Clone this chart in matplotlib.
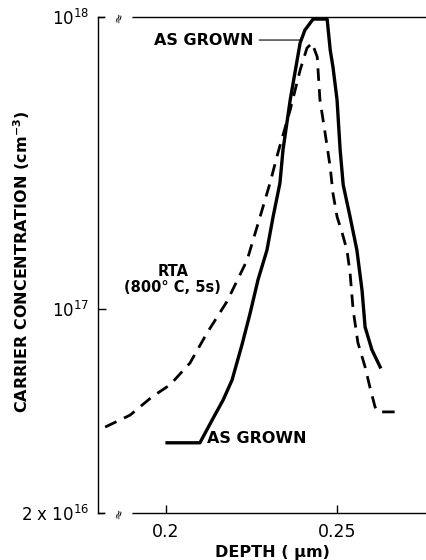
import numpy as np
import matplotlib
matplotlib.use('Agg')
import matplotlib.pyplot as plt

# as-grown profile (solid)
grown_depth = [0.2003, 0.2099, 0.2135, 0.2167, 0.2193, 0.2222, 0.2246, 0.2269,
               0.2295, 0.2313, 0.2333, 0.2342, 0.2363, 0.2392, 0.2406, 0.2430,
               0.2471, 0.2480, 0.2488, 0.2500, 0.2509, 0.2518, 0.2538, 0.2558,
               0.2573, 0.2582, 0.2602, 0.2626]
grown_conc = [3.48e16, 3.48e16, 4.17e16, 4.88e16, 5.71e16, 7.54e16, 9.69e16, 1.26e17,
              1.59e17, 2.07e17, 2.70e17, 3.51e17, 5.20e17, 8.15e17, 9.02e17, 9.84e17,
              9.84e17, 7.71e17, 6.75e17, 5.20e17, 3.51e17, 2.66e17, 2.07e17, 1.59e17,
              1.16e17, 8.67e16, 7.24e16, 6.33e16]

# RTA profile (dashed)
rta_depth = [0.1822, 0.1895, 0.1959, 0.2012, 0.2070, 0.2120, 0.2178, 0.2237,
             0.2275, 0.2304, 0.2327, 0.2363, 0.2392, 0.2412, 0.2427, 0.2442,
             0.2450, 0.2465, 0.2480, 0.2488, 0.2500, 0.2515, 0.2529, 0.2538,
             0.2547, 0.2561, 0.2582, 0.2596, 0.2611, 0.2620, 0.2675]
rta_conc = [3.94e16, 4.33e16, 5.00e16, 5.50e16, 6.53e16, 8.28e16, 1.06e17, 1.47e17,
            2.07e17, 2.70e17, 3.42e17, 4.81e17, 6.58e17, 7.83e17, 8.15e17, 7.30e17,
            5.20e17, 4.01e17, 3.06e17, 2.49e17, 2.07e17, 1.82e17, 1.59e17, 1.33e17,
            9.93e16, 7.66e16, 6.33e16, 5.40e16, 4.62e16, 4.44e16, 4.44e16]

xticks = [0.2, 0.25]
xtick_labels = ['0.2', '0.25']
yticks = [2e16, 1e17, 1e18]
ytick_labels = [r'2 x 10$^{16}$', r'10$^{17}$', r'10$^{18}$']

plt.rcParams['font.family'] = ['DejaVu Sans']
plt.rcParams['mathtext.default'] = 'regular'

fig = plt.figure(figsize=(4.27, 5.6), dpi=100)
ax = fig.add_axes([0.2295, 0.0839, 0.7705, 0.8857])

ax.plot(grown_depth, grown_conc, color='black', lw=2.4, solid_joinstyle='round')
ax.plot(rta_depth, rta_conc, color='black', lw=2.0, linestyle=(0, (4.5, 3)))

ax.set_yscale('log')
ax.set_xlim(0.1801, 0.2763)
ax.set_ylim(2e16, 1e18)

ax.spines['right'].set_visible(False)
for s in ['left', 'top', 'bottom']:
    ax.spines[s].set_linewidth(1.0)

ax.set_xticks(xticks)
ax.set_xticklabels(xtick_labels, fontsize=12.5)
ax.set_yticks(yticks)
ax.set_yticklabels(ytick_labels, fontsize=12)
ax.yaxis.set_minor_locator(matplotlib.ticker.NullLocator())
ax.tick_params(axis='both', direction='in', length=6, width=1, pad=6)
ax.tick_params(axis='x', pad=7)

ax.set_xlabel('DEPTH ( \u03bcm)', fontsize=11.5, fontweight='bold')
ax.xaxis.set_label_coords(0.53, -0.065)
ax.set_ylabel('CARRIER CONCENTRATION (cm$^{-3}$)', fontsize=11.5, fontweight='bold')
ax.yaxis.set_label_coords(-0.2, 0.506)

# axis break marks
ax.text(0.064, 1.0, '≈', transform=ax.transAxes, rotation=70, fontsize=9,
        ha='center', va='center', backgroundcolor='white')
ax.text(0.064, 0.0, '≈', transform=ax.transAxes, rotation=70, fontsize=9,
        ha='center', va='center', backgroundcolor='white')

# annotations
ax.annotate('AS GROWN', xy=(0.2392, 8.34e17), xytext=(0.2256, 8.34e17),
            fontsize=11.5, fontweight='bold', ha='right', va='center',
            arrowprops=dict(arrowstyle='-', lw=0.8, color='black', shrinkA=2, shrinkB=0))
ax.text(0.2120, 3.6e16, 'AS GROWN', fontsize=11.5, fontweight='bold', ha='left', va='center')
ax.text(0.2020, 1.26e17, 'RTA\n(800° C, 5s)', fontsize=10.5, fontweight='bold',
        ha='center', va='center', linespacing=1.05)

fig.savefig('out.png', dpi=100)
